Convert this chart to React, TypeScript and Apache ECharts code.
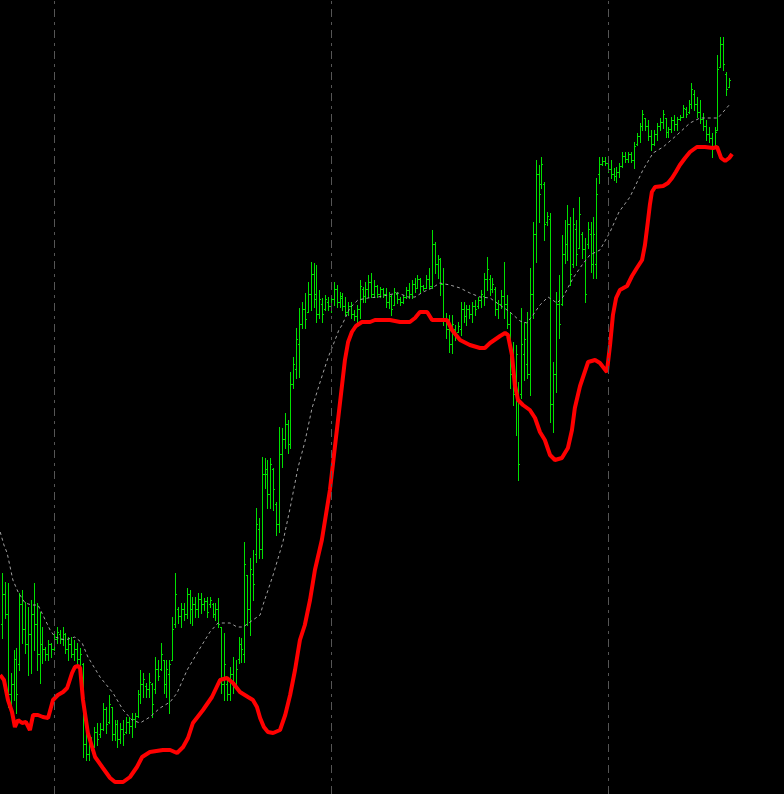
import React, { useEffect, useRef } from 'react';
import * as echarts from 'echarts';

// OHLC bars (price units, higher = higher on screen)
const opens = [
  170,200,180,100,110,135,130,190,165,150,
  160,180,170,140,150,145,140,150,145,155,
  160,155,160,145,150,140,145,135,130,50,
  40,50,48,62,60,65,85,72,87,60,
  70,55,65,62,72,68,75,78,100,110,
  108,105,110,105,125,125,134,110,120,134,
  170,185,178,185,180,200,185,190,185,195,
  190,193,190,190,180,185,167,110,110,100,
  120,110,135,150,140,219,185,220,240,265,
  245,320,320,300,325,290,270,340,355,370,
  350,410,425,450,470,485,482,500,520,500,
  480,490,485,492,488,495,505,492,496,488,
  482,488,480,478,485,505,498,505,512,500,
  508,500,505,500,492,498,489,500,495,492,
  497,504,500,510,506,515,508,506,515,508,
  550,530,535,510,475,465,450,465,462,465,
  485,478,485,480,488,488,494,498,515,515,
  505,505,485,490,498,490,470,420,400,400,
  400,440,430,420,500,560,620,610,610,572,
  575,390,420,490,490,540,550,570,530,565,
  546,560,545,550,560,530,530,620,630,633,
  631,625,620,618,622,628,638,635,640,634,
  650,658,668,676,668,658,650,660,668,672,
  676,662,665,674,670,675,677,685,682,690,
  700,690,682,675,668,660,656,648,664,727,
  750,720,707,
];
const highs = [
  221,212,211,121,144,146,201,204,192,187,
  194,211,191,182,167,147,154,151,161,167,
  164,167,161,157,157,154,151,146,131,61,
  57,57,67,71,71,91,87,99,87,74,
  74,71,74,77,77,81,81,104,124,121,
  111,121,111,137,134,151,134,134,134,177,
  221,187,191,191,206,204,197,197,201,201,
  196,197,197,191,191,196,167,161,114,127,
  137,134,157,156,252,219,236,244,286,276,
  337,336,334,336,326,292,367,366,381,374,
  422,437,466,486,492,501,512,532,531,529,
  504,496,499,497,499,512,509,502,501,497,
  492,492,484,489,514,507,512,519,521,514,
  509,507,506,506,502,499,506,502,497,499,
  507,511,514,516,519,516,509,519,526,564,
  552,539,536,526,481,479,479,469,472,492,
  492,489,489,492,494,497,504,521,537,519,
  516,507,494,504,532,499,482,452,449,412,
  486,472,482,526,572,634,629,637,612,582,
  581,432,502,519,559,574,589,577,586,574,
  597,562,556,572,572,577,616,637,637,637,
  637,634,626,627,631,642,642,642,642,652,
  661,671,684,676,674,664,664,671,676,684,
  676,667,677,679,677,679,689,687,694,711,
  704,697,694,681,674,667,661,667,739,757,
  757,722,716,
];
const lows = [
  156,176,87,87,94,81,124,151,141,119,
  121,144,124,111,131,134,134,137,144,151,
  151,149,141,134,137,134,131,126,37,34,
  34,44,47,49,57,64,61,71,54,54,
  47,51,49,61,61,57,67,77,91,97,
  97,97,77,101,114,124,101,97,81,134,
  167,171,167,174,176,171,169,177,177,181,
  184,177,187,177,174,167,101,94,94,94,
  101,107,131,132,132,169,159,194,232,236,
  236,306,286,286,284,259,262,327,346,341,
  346,406,416,417,466,466,482,484,487,472,
  476,472,484,484,482,489,487,487,484,479,
  479,476,474,471,476,492,492,497,497,497,
  497,497,497,487,486,479,489,491,489,491,
  496,496,496,502,506,502,504,506,506,506,
  521,516,499,469,456,442,441,454,462,459,
  472,469,476,472,479,486,487,489,504,499,
  502,479,476,486,476,466,406,389,359,314,
  396,414,416,399,476,532,572,606,554,569,
  372,362,402,456,489,531,534,509,527,529,
  546,536,492,546,522,516,516,611,629,629,
  622,616,614,612,617,627,632,632,632,626,
  649,652,664,664,654,644,649,654,664,666,
  657,657,662,664,664,674,677,677,681,686,
  684,677,671,664,654,652,637,647,664,727,
  724,699,707,
];
const closes = [
  200,180,100,110,135,100,190,165,150,160,
  180,170,140,150,145,140,150,145,155,162,
  155,160,145,150,140,145,135,140,50,40,
  50,48,62,55,65,85,70,90,60,70,
  55,65,60,72,68,75,78,100,110,115,
  105,112,90,125,118,140,110,125,130,165,
  200,178,185,180,200,185,190,185,195,190,
  193,182,194,180,185,170,110,130,100,120,
  110,125,150,145,230,185,225,210,270,245,
  320,325,300,330,305,270,340,355,370,350,
  410,430,455,470,485,475,500,520,495,480,
  495,480,495,488,495,505,492,498,488,482,
  488,480,478,485,508,498,505,512,500,508,
  500,505,500,492,498,485,502,495,492,497,
  504,500,510,506,515,508,506,515,508,550,
  530,535,510,475,465,450,470,460,468,485,
  478,485,480,488,485,494,500,515,525,505,
  510,485,490,498,490,470,420,400,440,330,
  450,455,420,500,560,620,600,630,570,578,
  390,420,490,470,540,550,570,520,570,540,
  580,545,500,565,530,560,600,630,633,631,
  625,620,618,622,628,638,635,640,634,648,
  658,668,680,668,658,650,660,668,672,680,
  662,665,674,670,675,677,686,680,690,705,
  690,682,675,668,660,656,645,662,725,750,
  730,705,714,
];

// Thick red indicator line: [bar position, value]
const redLine = [
  [-0.8,119],[0.5,114],[1.9,94],[3.3,82],[4.3,67],[5.4,74],[6.8,71],[8.1,72],[9.5,64],[10.6,79],
  [12.3,79],[14,77],[15.8,76],[17.5,94],[19.2,99],[21,102],[22.4,106],[24.1,121],[25.1,127],[26.2,128],
  [26.9,126],[27.9,94],[29.6,61],[32.1,37],[34.8,26],[37.3,16],[39,12],[41.8,12],[44.2,17],[46.6,27],
  [48.4,37],[51.1,42],[55.6,44],[58.1,44],[60.5,41],[62.6,47],[64.3,56],[66,71],[69.5,84],[72.6,97],
  [75.4,114],[77.8,116],[79.9,111],[82.3,102],[85.1,97],[86.8,94],[88.2,87],[89.3,76],[90.6,67],[92,62],
  [93.8,61],[96.2,64],[98,79],[99.7,99],[101.4,124],[103.1,154],[104.8,169],[106.6,194],[108.3,224],[110.7,254],
  [112.1,279],[113.5,304],[114.9,339],[116.3,374],[117.7,409],[118.7,434],[119.8,452],[121.1,462],[122.5,468],[124.6,472],
  [127.4,472],[129.1,474],[130.8,474],[134.3,474],[137.8,472],[141.2,472],[143,476],[144.7,482],[147.2,482],[148.9,474],
  [151.6,474],[154.1,474],[155.8,464],[158.6,454],[162,449],[165.5,446],[167.2,446],[169,451],[172.5,458],[174.2,461],
  [175.2,459],[176.6,439],[177.6,409],[178.7,394],[180.4,389],[182.8,384],[184.6,376],[186.3,362],[188,354],[189.8,339],
  [191.5,334],[193.9,336],[196,346],[197.4,364],[198.4,386],[200.2,408],[203,432],[205.4,434],[207.1,431],[209.5,422],
  [210.6,449],[211.6,479],[212.7,496],[214,504],[216.5,508],[218.2,518],[219.9,526],[221.7,534],[222.7,549],[223.7,572],
  [224.4,589],[225.1,602],[226.2,607],[229,608],[230.7,611],[232.1,616],[233.4,622],[234.8,629],[236.6,636],[238.3,642],
  [240.7,647],[243.5,647],[246.3,646],[247.7,647],[249.1,636],[250.5,633],[251.9,636],[252.9,640],
];

// Grey dotted moving average: [bar position, value]
const maLine = [
  [-0.8,262],[0.5,249],[1.6,241],[3.6,214],[5.4,202],[7.8,191],[10.2,189],[12.3,189],[14,179],[16.5,164],
  [18.2,157],[21.7,154],[25.1,157],[27.6,151],[29.6,137],[33.8,117],[38.3,101],[41.8,84],[44.9,74],[47.7,71],
  [51.1,77],[54.6,86],[58.1,92],[60.5,101],[64,124],[68.5,146],[71.9,162],[74.7,171],[78.9,171],[81.3,167],
  [83.4,167],[86.8,174],[89.3,179],[90.3,189],[93.8,219],[97.2,252],[99.7,286],[102.4,326],[104.8,352],[107.3,386],
  [110.1,412],[112.8,436],[114.6,449],[116.6,464],[117.7,469],[120.4,486],[123.2,494],[126.7,496],[130.2,497],[133.6,499],
  [137.1,501],[140.6,497],[143,497],[145.8,502],[148.9,506],[151.6,511],[155.1,509],[158.6,506],[162,501],[165.5,497],
  [169,496],[172.4,489],[175.9,482],[179.4,473],[181.8,471],[183.9,479],[186.3,489],[189.1,497],[192.2,491],[194.3,497],
  [197.8,516],[200.9,529],[203.6,539],[207.1,544],[210.6,562],[213.7,582],[217.5,597],[222,624],[225.5,641],[229,647],
  [233.8,659],[238.3,671],[241.8,676],[245.3,676],[248,676],[250.4,684],[252.5,691],
];

// Period separators (bar positions)
const separators = [18, 114, 210];

const GREEN = '#00e000';

export default function App() {
  const ref = useRef<HTMLDivElement>(null);
  useEffect(() => {
    document.body.style.margin = '0';
    document.body.style.background = '#000';
    const chart = echarts.init(ref.current as HTMLDivElement, null, { renderer: 'svg' });
    const bars = highs.map((h, i) => [i, opens[i], h, lows[i], closes[i]]);
    chart.setOption({
      animation: false,
      backgroundColor: '#000000',
      grid: { left: 0, right: 0, top: 0, bottom: 0 },
      xAxis: { type: 'value', min: -0.87, max: 270.9, show: false },
      yAxis: { type: 'value', min: 0, max: 794, show: false },
      series: [
        {
          type: 'custom',
          z: 2,
          data: bars,
          encode: { x: 0, y: [1, 2, 3, 4] },
          renderItem: (params: any, api: any) => {
            const i = api.value(0);
            const pH = api.coord([i, api.value(2)]);
            const pL = api.coord([i, api.value(3)]);
            const pO = api.coord([i, api.value(1)]);
            const pC = api.coord([i, api.value(4)]);
            const col = Math.floor(pH[0]);
            const xc = col + 0.5;
            const yo = Math.round(pO[1]) + 0.5;
            const yc = Math.round(pC[1]) + 0.5;
            const st = { stroke: GREEN, lineWidth: 1 };
            return {
              type: 'group',
              children: [
                { type: 'line', shape: { x1: xc, y1: Math.round(pH[1]), x2: xc, y2: Math.round(pL[1]) + 1 }, style: st },
                { type: 'line', shape: { x1: col - 1, y1: yo, x2: col, y2: yo }, style: st },
                { type: 'line', shape: { x1: col + 1, y1: yc, x2: col + 2, y2: yc }, style: st },
              ],
            };
          },
          markLine: {
            silent: true,
            symbol: ['none', 'none'],
            label: { show: false },
            lineStyle: { color: '#555555', width: 1, type: [8, 5, 3, 5] },
            data: separators.map((s) => ({ xAxis: s })),
          },
        },
        {
          type: 'line',
          z: 3,
          data: maLine,
          showSymbol: false,
          symbol: 'none',
          lineStyle: { color: '#a0a0a0', width: 1, type: [3, 3] },
        },
        {
          type: 'line',
          z: 4,
          data: redLine,
          showSymbol: false,
          symbol: 'none',
          lineStyle: { color: '#ff0000', width: 4 },
        },
      ],
    });
    return () => chart.dispose();
  }, []);
  return (
    <div
      ref={ref}
      style={{ position: 'absolute', left: 0, top: 0, width: 784, height: 794, background: '#000' }}
    />
  );
}
